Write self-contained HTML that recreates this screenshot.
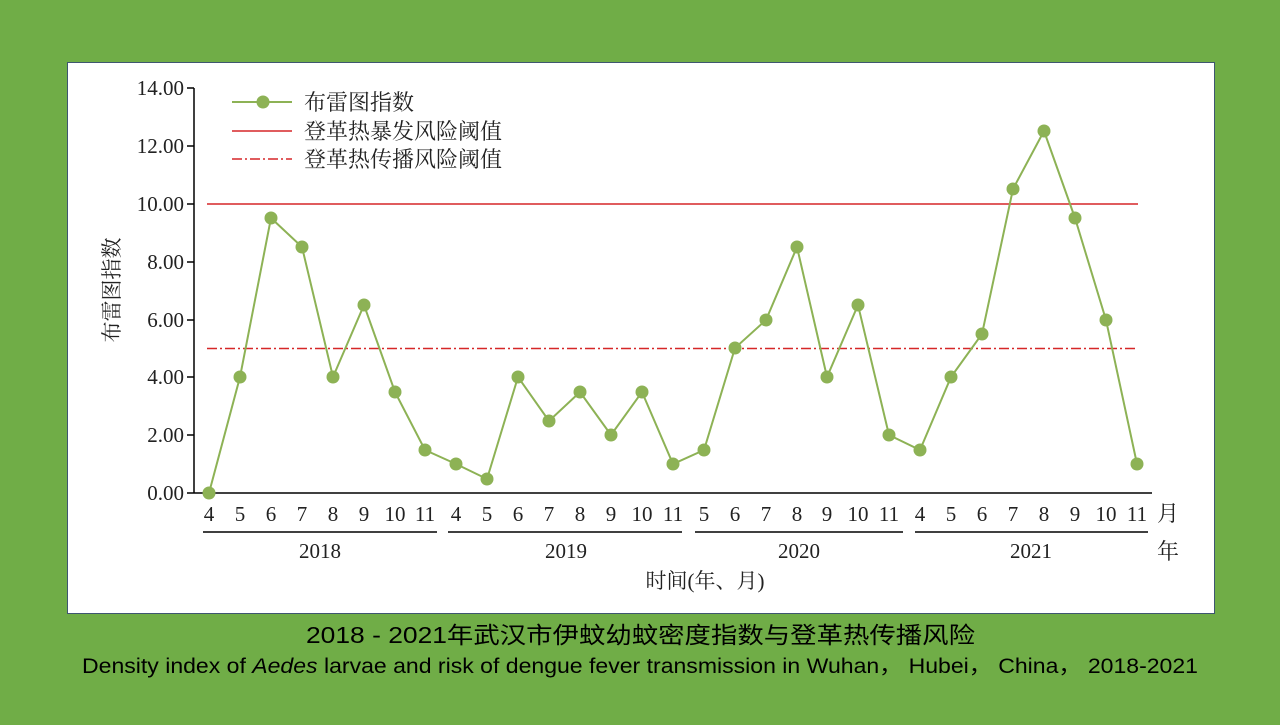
<!DOCTYPE html>
<html><head><meta charset="utf-8"><style>
body{margin:0;width:1280px;height:720px;background:#70AD47;overflow:hidden;font-family:"Liberation Sans","Noto Sans CJK SC",sans-serif}
</style></head><body>
<svg width="1280" height="720" xmlns="http://www.w3.org/2000/svg">
<rect x="67.5" y="62.5" width="1147" height="551" fill="#fff" stroke="#3e5670" stroke-width="1"/>
<g font-family="Liberation Serif,'Noto Serif CJK SC',serif" font-size="21" fill="#222">
<line x1="194" y1="88" x2="194" y2="493" stroke="#000" stroke-width="1.5"/>
<line x1="194" y1="493" x2="1152" y2="493" stroke="#000" stroke-width="1.5"/>
<g stroke="#000" stroke-width="1.5">
<line x1="187" y1="88" x2="194" y2="88"/><line x1="187" y1="146" x2="194" y2="146"/><line x1="187" y1="204" x2="194" y2="204"/><line x1="187" y1="262" x2="194" y2="262"/><line x1="187" y1="320" x2="194" y2="320"/><line x1="187" y1="377" x2="194" y2="377"/><line x1="187" y1="435" x2="194" y2="435"/><line x1="187" y1="493" x2="194" y2="493"/>
</g>
<g text-anchor="end">
<text x="184" y="95">14.00</text><text x="184" y="153">12.00</text><text x="184" y="211">10.00</text><text x="184" y="269">8.00</text><text x="184" y="327">6.00</text><text x="184" y="384">4.00</text><text x="184" y="442">2.00</text><text x="184" y="500">0.00</text>
</g>
<text transform="translate(119,290) rotate(-90)" text-anchor="middle" font-size="21">布雷图指数</text>
<line x1="207" y1="204" x2="1138" y2="204" stroke="#d62728" stroke-width="1.5"/>
<line x1="207" y1="348.5" x2="1138" y2="348.5" stroke="#d62728" stroke-width="1.5" stroke-dasharray="10,3,2,3"/>
<line x1="232" y1="102" x2="292" y2="102" stroke="#8db255" stroke-width="2"/><circle cx="263" cy="102" r="6.5" fill="#8db255"/>
<text x="304" y="110" font-size="22">布雷图指数</text>
<line x1="232" y1="131" x2="292" y2="131" stroke="#d62728" stroke-width="1.5"/>
<text x="304" y="139" font-size="22">登革热暴发风险阈值</text>
<line x1="232" y1="159" x2="292" y2="159" stroke="#d62728" stroke-width="1.5" stroke-dasharray="10,3,2,3"/>
<text x="304" y="167" font-size="22">登革热传播风险阈值</text>
<polyline fill="none" stroke="#8db255" stroke-width="2" points="209,493 240,377 271,218 302,247 333,377 364,305 395,392 425,450 456,464 487,479 518,377 549,421 580,392 611,435 642,392 673,464 704,450 735,348 766,320 797,247 827,377 858,305 889,435 920,450 951,377 982,334 1013,189 1044,131 1075,218 1106,320 1137,464"/>
<g fill="#8db255">
<circle cx="209" cy="493" r="6.5"/><circle cx="240" cy="377" r="6.5"/><circle cx="271" cy="218" r="6.5"/><circle cx="302" cy="247" r="6.5"/><circle cx="333" cy="377" r="6.5"/><circle cx="364" cy="305" r="6.5"/><circle cx="395" cy="392" r="6.5"/><circle cx="425" cy="450" r="6.5"/><circle cx="456" cy="464" r="6.5"/><circle cx="487" cy="479" r="6.5"/><circle cx="518" cy="377" r="6.5"/><circle cx="549" cy="421" r="6.5"/><circle cx="580" cy="392" r="6.5"/><circle cx="611" cy="435" r="6.5"/><circle cx="642" cy="392" r="6.5"/><circle cx="673" cy="464" r="6.5"/><circle cx="704" cy="450" r="6.5"/><circle cx="735" cy="348" r="6.5"/><circle cx="766" cy="320" r="6.5"/><circle cx="797" cy="247" r="6.5"/><circle cx="827" cy="377" r="6.5"/><circle cx="858" cy="305" r="6.5"/><circle cx="889" cy="435" r="6.5"/><circle cx="920" cy="450" r="6.5"/><circle cx="951" cy="377" r="6.5"/><circle cx="982" cy="334" r="6.5"/><circle cx="1013" cy="189" r="6.5"/><circle cx="1044" cy="131" r="6.5"/><circle cx="1075" cy="218" r="6.5"/><circle cx="1106" cy="320" r="6.5"/><circle cx="1137" cy="464" r="6.5"/>
</g>
<g text-anchor="middle">
<text x="209" y="521">4</text><text x="240" y="521">5</text><text x="271" y="521">6</text><text x="302" y="521">7</text><text x="333" y="521">8</text><text x="364" y="521">9</text><text x="395" y="521">10</text><text x="425" y="521">11</text>
<text x="456" y="521">4</text><text x="487" y="521">5</text><text x="518" y="521">6</text><text x="549" y="521">7</text><text x="580" y="521">8</text><text x="611" y="521">9</text><text x="642" y="521">10</text><text x="673" y="521">11</text>
<text x="704" y="521">5</text><text x="735" y="521">6</text><text x="766" y="521">7</text><text x="797" y="521">8</text><text x="827" y="521">9</text><text x="858" y="521">10</text><text x="889" y="521">11</text>
<text x="920" y="521">4</text><text x="951" y="521">5</text><text x="982" y="521">6</text><text x="1013" y="521">7</text><text x="1044" y="521">8</text><text x="1075" y="521">9</text><text x="1106" y="521">10</text><text x="1137" y="521">11</text>
<text x="1168" y="521" font-size="22">月</text>
<text x="320" y="558">2018</text><text x="566" y="558">2019</text><text x="799" y="558">2020</text><text x="1031" y="558">2021</text>
<text x="1168" y="559" font-size="22">年</text>
<text x="705" y="588" font-size="21">时间(年、月)</text>
</g>
<g stroke="#000" stroke-width="1.5">
<line x1="203" y1="532" x2="437" y2="532"/><line x1="448" y1="532" x2="682" y2="532"/><line x1="695" y1="532" x2="903" y2="532"/><line x1="915" y1="532" x2="1148" y2="532"/>
</g>
</g>
<text x="306" y="643" textLength="669" lengthAdjust="spacingAndGlyphs" font-size="23" fill="#000" font-family="'Liberation Sans','Noto Sans CJK SC',sans-serif">2018 - 2021年武汉市伊蚊幼蚊密度指数与登革热传播风险</text>
<text x="82" y="673" textLength="1116" lengthAdjust="spacingAndGlyphs" font-size="21" fill="#000" font-family="'Liberation Sans','Noto Sans CJK SC',sans-serif">Density index of <tspan font-style="italic">Aedes</tspan> larvae and risk of dengue fever transmission in Wuhan，  Hubei，  China，  2018-2021</text>
</svg>
</body></html>
